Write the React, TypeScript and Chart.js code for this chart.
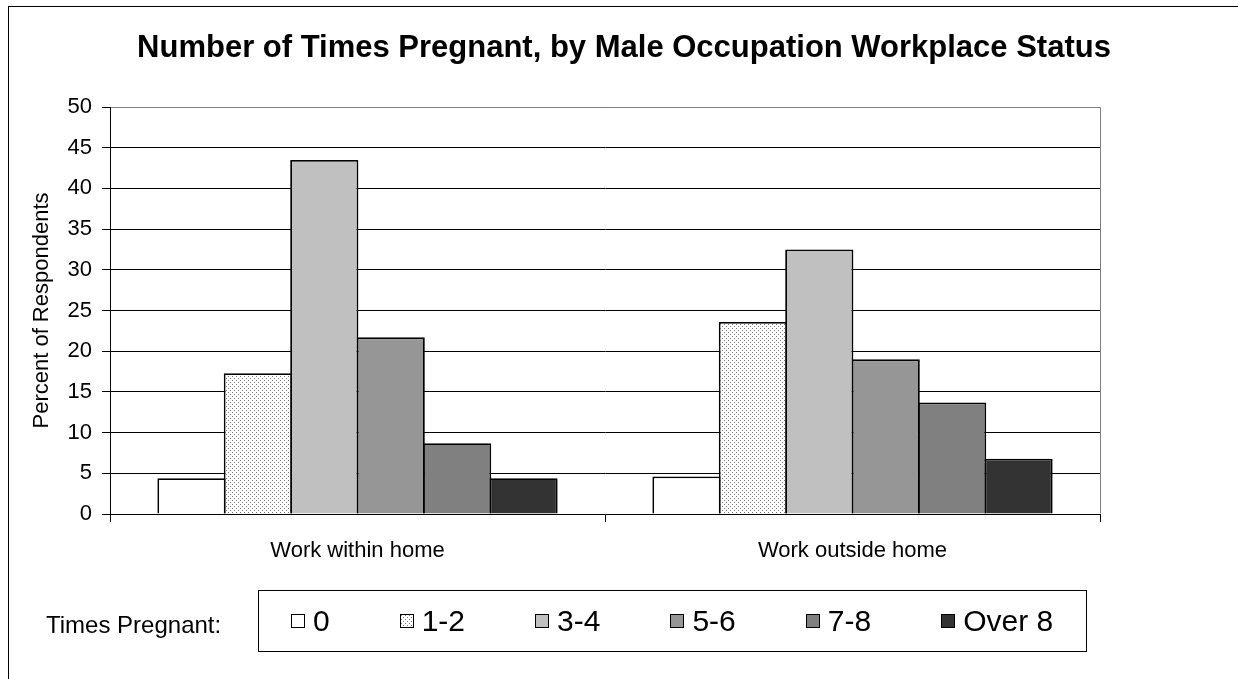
import React, { useEffect, useMemo, useRef } from 'react';
import { Chart, registerables } from 'chart.js';

Chart.register(...registerables);

const FONT = '"Liberation Sans", Arial, Helvetica, sans-serif';

// ---- data ----
const CATEGORIES = ['Work within home', 'Work outside home'];
const SERIES_LABELS = ['0', '1-2', '3-4', '5-6', '7-8', 'Over 8'];
const VALUES_0 = [4.4, 4.6];
const VALUES_1_2 = [17.3, 23.6];
const VALUES_3_4 = [43.5, 32.5];
const VALUES_5_6 = [21.7, 19.0];
const VALUES_7_8 = [8.7, 13.7];
const VALUES_OVER_8 = [4.4, 6.8];
const SERIES_VALUES = [VALUES_0, VALUES_1_2, VALUES_3_4, VALUES_5_6, VALUES_7_8, VALUES_OVER_8];
const Y_MIN = 0;
const Y_MAX = 50;
const Y_STEP = 5;

const TITLE = 'Number of Times Pregnant, by Male Occupation Workplace Status';
const Y_TITLE = 'Percent of Respondents';
const LEGEND_TITLE = 'Times Pregnant:';

// ---- styles ----
const SERIES_FILLS = ['#FFFFFF', 'DOTS', '#C0C0C0', '#969696', '#808080', '#333333'];

function makeDotTile(): HTMLCanvasElement {
  const c = document.createElement('canvas');
  c.width = 4;
  c.height = 4;
  const g = c.getContext('2d')!;
  g.fillStyle = '#FFFFFF';
  g.fillRect(0, 0, 4, 4);
  g.fillStyle = '#7a7a7a';
  g.fillRect(0, 0, 1, 1);
  g.fillRect(2, 2, 1, 1);
  return c;
}

const plotFramePlugin = {
  id: 'plotFrame',
  afterDraw(chart: any) {
    const { ctx, chartArea } = chart;
    const top = Math.round(chartArea.top - 0.5) + 0.5;
    const right = Math.round(chartArea.right - 0.5) + 0.5;
    const bottom = Math.round(chartArea.bottom - 0.5) + 0.5;
    ctx.save();
    ctx.strokeStyle = '#808080';
    ctx.lineWidth = 1;
    ctx.beginPath();
    ctx.moveTo(chartArea.left + 1, top);
    ctx.lineTo(right, top);
    ctx.lineTo(right, bottom - 1);
    ctx.stroke();
    ctx.restore();
  },
};

export default function App() {
  const canvasRef = useRef<HTMLCanvasElement>(null);
  const dotUrl = useMemo(() => makeDotTile().toDataURL(), []);

  useEffect(() => {
    const canvas = canvasRef.current!;
    const ctx = canvas.getContext('2d')!;
    const dots = ctx.createPattern(makeDotTile(), 'repeat');
    Chart.defaults.font.family = FONT;
    Chart.defaults.color = '#000';

    const chart = new Chart(canvas, {
      type: 'bar',
      data: {
        labels: CATEGORIES,
        datasets: SERIES_LABELS.map((label, i) => ({
          label,
          data: SERIES_VALUES[i],
          backgroundColor: SERIES_FILLS[i] === 'DOTS' ? (dots as any) : SERIES_FILLS[i],
          borderColor: '#000',
          borderWidth: 1.8,
          categoryPercentage: 0.805,
          barPercentage: 1.027,
        })),
      },
      options: {
        responsive: false,
        maintainAspectRatio: false,
        animation: false,
        layout: { padding: 0 },
        plugins: {
          legend: { display: false },
          tooltip: { enabled: false },
          title: {
            display: true,
            text: TITLE,
            color: '#000',
            font: { size: 31, weight: 'bold', family: FONT },
            padding: { top: 30, bottom: 39.8 },
          },
        },
        scales: {
          x: {
            grid: { drawOnChartArea: false, drawTicks: true, tickLength: 8, color: '#000', offset: true },
            border: { color: '#000', width: 1 },
            ticks: { color: '#000', font: { size: 22, family: FONT }, padding: 16, maxRotation: 0, autoSkip: false },
            afterFit: (s: any) => {
              s.height = 165;
            },
          },
          y: {
            min: Y_MIN,
            max: Y_MAX,
            ticks: { stepSize: Y_STEP, color: '#000', font: { size: 22, family: FONT }, padding: 10 },
            grid: { color: '#000', tickLength: 8, lineWidth: 1 },
            border: { color: '#000', width: 1 },
            title: {
              display: true,
              text: Y_TITLE,
              color: '#000',
              font: { size: 22, family: FONT },
              padding: { top: 29, bottom: 0 },
            },
            afterFit: (s: any) => {
              s.width = 110;
            },
          },
          yRight: {
            type: 'linear',
            position: 'right',
            display: true,
            grid: { display: false },
            border: { display: false },
            ticks: { display: false },
            afterFit: (s: any) => {
              s.width = 148;
            },
          },
        },
      } as any,
      plugins: [plotFramePlugin],
    });
    return () => chart.destroy();
  }, []);

  return (
    <div
      style={{
        position: 'fixed',
        left: 0,
        top: 0,
        width: 1238,
        height: 679,
        overflow: 'hidden',
        background: '#fff',
        fontFamily: FONT,
        color: '#000',
      }}
    >
      <div
        style={{
          position: 'absolute',
          left: 8,
          top: 6,
          width: 1300,
          height: 700,
          borderLeft: '1px solid #000',
          borderTop: '1px solid #000',
          boxSizing: 'border-box',
        }}
      />
      <canvas
        ref={canvasRef}
        width={1248}
        height={679}
        style={{ position: 'absolute', left: 0, top: 0, width: 1248, height: 679 }}
      />
      <div
        style={{
          position: 'absolute',
          left: 46,
          top: 613,
          fontSize: 24,
          lineHeight: '24px',
          whiteSpace: 'nowrap',
        }}
      >
        {LEGEND_TITLE}
      </div>
      <div
        style={{
          position: 'absolute',
          left: 258,
          top: 590,
          width: 829,
          height: 62,
          border: '1px solid #000',
          boxSizing: 'border-box',
          display: 'flex',
          alignItems: 'center',
          paddingLeft: 32,
          gap: 70,
        }}
      >
        {SERIES_LABELS.map((label, i) => (
          <div key={label} style={{ display: 'flex', alignItems: 'center', whiteSpace: 'nowrap' }}>
            <span
              style={{
                display: 'inline-block',
                width: 14,
                height: 14,
                boxSizing: 'border-box',
                border: '1px solid #000',
                marginRight: 8,
                background: SERIES_FILLS[i] === 'DOTS' ? `url(${dotUrl}) repeat` : SERIES_FILLS[i],
              }}
            />
            <span style={{ fontSize: 30, lineHeight: '30px' }}>{label}</span>
          </div>
        ))}
      </div>
    </div>
  );
}
